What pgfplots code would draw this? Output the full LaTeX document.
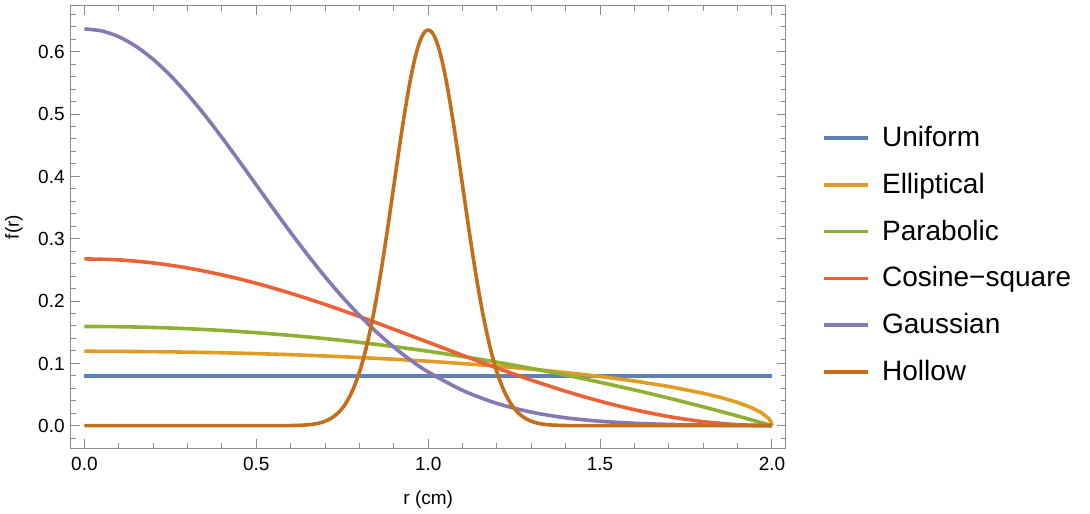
\documentclass[border=0pt]{standalone}
\usepackage{fontspec}
\setmainfont{Liberation Sans}
\usepackage{pgfplots}
\pgfplotsset{compat=1.18}

\definecolor{cUni}{rgb}{0.368417,0.506779,0.709798}
\definecolor{cEll}{rgb}{0.880722,0.611041,0.142051}
\definecolor{cPar}{rgb}{0.560181,0.691569,0.194885}
\definecolor{cCos}{rgb}{0.922526,0.385626,0.209179}
\definecolor{cGau}{rgb}{0.528488,0.470624,0.701351}
\definecolor{cHol}{rgb}{0.772079,0.431554,0.102387}
\definecolor{frm}{gray}{0.55}

\begin{document}
\begin{tikzpicture}
\useasboundingbox (0,0) rectangle (545pt,256.5pt);
\begin{axis}[
    at={(35.35pt,32.35pt)}, anchor=south west,
    scale only axis, width=357.5pt, height=221.15pt,
    xmin=-0.04, xmax=2.04, ymin=-0.0363, ymax=0.6734,
    xtick={0,0.5,1,1.5,2},
    ytick={0,0.1,0.2,0.3,0.4,0.5,0.6},
    minor xtick={0.1,0.2,0.3,0.4,0.6,0.7,0.8,0.9,1.1,1.2,1.3,1.4,1.6,1.7,1.8,1.9},
    minor ytick={-0.02,0.02,0.04,0.06,0.08,0.12,0.14,0.16,0.18,0.22,0.24,0.26,0.28,0.32,0.34,0.36,0.38,0.42,0.44,0.46,0.48,0.52,0.54,0.56,0.58,0.62,0.64,0.66},
    tick align=inside,
    major tick length=4.4pt, minor tick length=2.6pt,
    every tick/.style={frm, line width=0.5pt},
    axis line style={frm, line width=0.5pt},
    /pgf/number format/.cd, fixed, fixed zerofill, precision=1, assume math mode=true,
    /pgfplots/.cd,
    tick label style={font=\fontsize{9.5}{11}\selectfont, black},
    xticklabel style={anchor=north, inner sep=0pt, text height=6.8pt, text depth=0pt, yshift=-3.95pt},
    yticklabel style={anchor=east, inner sep=0pt, text height=6.8pt, text depth=0pt, xshift=-2.85pt},
    xlabel={r (cm)}, ylabel={f(r)},
    label style={font=\fontsize{9.5}{11}\selectfont, black},
    xlabel style={at={([yshift=-25.6pt]axis description cs:0.5,0)}, anchor=center},
    ylabel style={at={([xshift=-28.35pt]axis description cs:0,0.5)}, anchor=center},
    legend cell align=left,
    legend image code/.code={\draw[#1] (0pt,0pt) -- (21.7pt,0pt);},
    legend style={at={(1.0517,0.437)}, anchor=west, draw=none, fill=none,
        inner sep=0pt, outer sep=0pt, row sep=9.8pt, column sep=6.2pt,
        font=\fontsize{14}{16}\selectfont,
        nodes={inner sep=0pt, text height=11pt, text depth=2.6pt}},
    every axis plot/.append style={line width=1.8pt, line join=round, no markers},
]

\addplot[cUni] coordinates {(0,0.0796) (2,0.0796)};
\addlegendentry{Uniform}

\addplot[cEll] coordinates {
(0,0.1194) (0.1,0.1192) (0.2,0.1188) (0.3,0.1180) (0.4,0.1170) (0.5,0.1156)
(0.6,0.1139) (0.7,0.1118) (0.8,0.1094) (0.9,0.1066) (1.0,0.1034) (1.1,0.0997)
(1.2,0.0955) (1.3,0.0907) (1.4,0.0852) (1.5,0.0790) (1.6,0.0716) (1.7,0.0629)
(1.8,0.0520) (1.85,0.0454) (1.9,0.0373) (1.94,0.0290) (1.97,0.0206)
(1.99,0.0119) (1.998,0.0053) (2,0)};
\addlegendentry{Elliptical}

\addplot[cPar, smooth] coordinates {
(0,0.1592) (0.1,0.1588) (0.2,0.1576) (0.3,0.1556) (0.4,0.1528) (0.5,0.1492)
(0.6,0.1448) (0.7,0.1397) (0.8,0.1337) (0.9,0.1269) (1.0,0.1194) (1.1,0.1110)
(1.2,0.1019) (1.3,0.0919) (1.4,0.0812) (1.5,0.0696) (1.6,0.0573) (1.7,0.0442)
(1.8,0.0302) (1.9,0.0155) (2,0)};
\addlegendentry{Parabolic}

\addplot[cCos, smooth] coordinates {
(0,0.2676) (0.1,0.2660) (0.2,0.2611) (0.3,0.2530) (0.4,0.2420) (0.5,0.2284)
(0.6,0.2124) (0.7,0.1945) (0.8,0.1751) (0.9,0.1547) (1.0,0.1338) (1.1,0.1129)
(1.2,0.0925) (1.3,0.0731) (1.4,0.0552) (1.5,0.0392) (1.6,0.0256) (1.7,0.0146)
(1.8,0.0065) (1.9,0.0016) (2,0)};
\addlegendentry{Cosine−square}

\addplot[cGau, smooth] coordinates {
(0,0.6366) (0.05,0.6334) (0.1,0.6240) (0.15,0.6086) (0.2,0.5877) (0.25,0.5618)
(0.3,0.5317) (0.35,0.4983) (0.4,0.4623) (0.45,0.4246) (0.5,0.3861) (0.55,0.3476)
(0.6,0.3099) (0.65,0.2735) (0.7,0.2389) (0.75,0.2067) (0.8,0.1770) (0.85,0.1501)
(0.9,0.1260) (0.95,0.1047) (1.0,0.0862) (1.1,0.0566) (1.2,0.0357) (1.3,0.0217)
(1.4,0.0126) (1.5,0.0071) (1.6,0.0038) (1.7,0.0020) (1.8,0.0010) (1.9,0.0005)
(2,0.0002)};
\addlegendentry{Gaussian}

\addplot[cHol, smooth] coordinates {
(0,0) (0.5,0) (0.55,0.0000) (0.6,0.0002) (0.62,0.0005) (0.64,0.0010) (0.66,0.0020)
(0.68,0.0038) (0.70,0.0071) (0.72,0.0126) (0.74,0.0216) (0.76,0.0356)
(0.78,0.0565) (0.80,0.0859) (0.82,0.1257) (0.84,0.1765) (0.86,0.2383)
(0.88,0.3091) (0.90,0.3851) (0.91,0.4235) (0.92,0.4611) (0.93,0.4969)
(0.94,0.5303) (0.95,0.5603) (0.96,0.5861) (0.97,0.6070) (0.98,0.6224)
(0.99,0.6318) (1.00,0.6349) (1.01,0.6318) (1.02,0.6224) (1.03,0.6070)
(1.04,0.5861) (1.05,0.5603) (1.06,0.5303) (1.07,0.4969) (1.08,0.4611)
(1.09,0.4235) (1.10,0.3851) (1.12,0.3091) (1.14,0.2383) (1.16,0.1765)
(1.18,0.1257) (1.20,0.0859) (1.22,0.0565) (1.24,0.0356) (1.26,0.0216)
(1.28,0.0126) (1.30,0.0071) (1.32,0.0038) (1.34,0.0020) (1.36,0.0010)
(1.38,0.0005) (1.40,0.0002) (1.45,0.0000) (1.5,0) (2,0)};
\addlegendentry{Hollow}

\end{axis}
\end{tikzpicture}
\end{document}
